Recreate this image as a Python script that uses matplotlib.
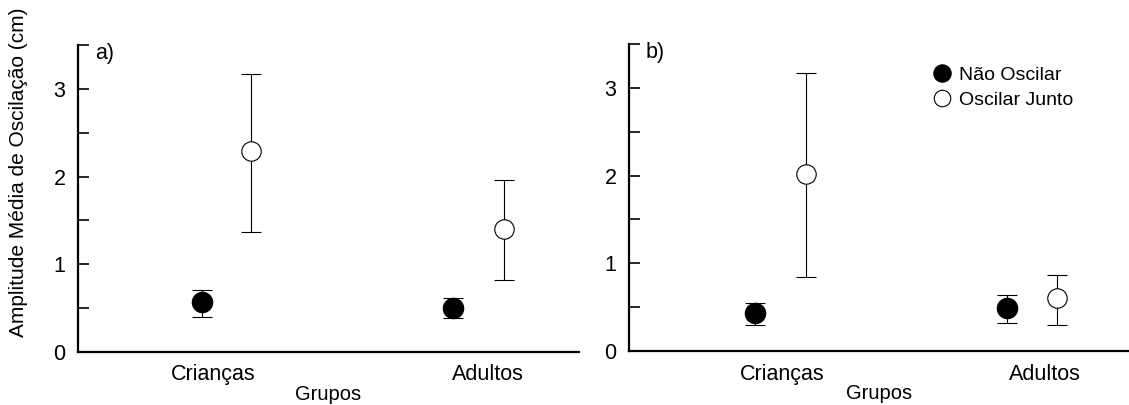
import matplotlib
matplotlib.use("Agg")
import matplotlib.pyplot as plt

plt.rcParams['font.family'] = ['Liberation Sans', 'DejaVu Sans']

# values
groups = ["Crianças", "Adultos"]
series = ["Não Oscilar", "Oscilar Junto"]

# panel a)
a_nao = [0.57, 0.50]
a_nao_lo = [0.40, 0.39]
a_nao_hi = [0.71, 0.62]
a_osc = [2.29, 1.40]
a_osc_lo = [1.37, 0.82]
a_osc_hi = [3.17, 1.96]

# panel b)
b_nao = [0.43, 0.49]
b_nao_lo = [0.30, 0.32]
b_nao_hi = [0.55, 0.64]
b_osc = [2.02, 0.60]
b_osc_lo = [0.84, 0.30]
b_osc_hi = [3.17, 0.87]

# x positions (numeric x axis of the original)
a_x_nao = [1.24, 3.74]
a_x_osc = [1.73, 4.25]
a_x_lab = [1.35, 4.09]
b_x_nao = [1.26, 3.78]
b_x_osc = [1.77, 4.28]
b_x_lab = [1.53, 4.16]

fig = plt.figure(figsize=(11.29, 4.05), dpi=100)
ax_a = fig.add_axes([0.0691, 0.1309, 0.4437, 0.758])
ax_b = fig.add_axes([0.5571, 0.1333, 0.4429, 0.758])


def draw(ax, xn, xo, xl, yn, ynl, ynh, yo, yol, yoh, tag):
    err_n = [[v - l for v, l in zip(yn, ynl)], [h - v for v, h in zip(yn, ynh)]]
    err_o = [[v - l for v, l in zip(yo, yol)], [h - v for v, h in zip(yo, yoh)]]
    ax.errorbar(xn, yn, yerr=err_n, fmt='o', color='black', ms=14.5,
                mfc='black', mec='black', ecolor='black', elinewidth=0.8,
                capsize=7.5, capthick=0.8, label=series[0], clip_on=False)
    ax.errorbar(xo, yo, yerr=err_o, fmt='o', color='black', ms=14,
                mfc='white', mec='black', mew=0.8, ecolor='black', elinewidth=0.8,
                capsize=7.5, capthick=0.8, label=series[1], clip_on=False)
    ax.set_xlim(0, 5)
    ax.set_ylim(0, 3.5)
    ax.set_yticks([0, 1, 2, 3])
    ax.set_yticks([0.5, 1.5, 2.5, 3.5], minor=True)
    ax.set_xticks(xl)
    ax.set_xticklabels(groups)
    ax.tick_params(axis='x', length=0, labelsize=15.5, pad=9)
    ax.tick_params(axis='y', which='both', direction='in', length=8, width=1.2,
                   labelsize=15.5, pad=9)
    for s in ['top', 'right']:
        ax.spines[s].set_visible(False)
    for s in ['left', 'bottom']:
        ax.spines[s].set_linewidth(1.6)
    ax.text(0.17, 3.4, tag, fontsize=15.5, va='center', ha='left')
    ax.set_xlabel("Grupos", fontsize=14.5, va='top')
    ax.xaxis.set_label_coords(0.5, -0.108)


draw(ax_a, a_x_nao, a_x_osc, a_x_lab, a_nao, a_nao_lo, a_nao_hi,
     a_osc, a_osc_lo, a_osc_hi, "a)")
draw(ax_b, b_x_nao, b_x_osc, b_x_lab, b_nao, b_nao_lo, b_nao_hi,
     b_osc, b_osc_lo, b_osc_hi, "b)")

ax_a.set_ylabel("Amplitude Média de Oscilação (cm)", fontsize=15)
ax_a.yaxis.set_label_coords(-0.10, 0.585)

h, l = ax_b.get_legend_handles_labels()
h = [x[0] for x in h]
ax_b.legend(h, l, loc='upper left', bbox_to_anchor=(0.57, 0.985), frameon=False,
            fontsize=14, handletextpad=0.3, labelspacing=0.4, handlelength=1.1,
            markerscale=0.85)

fig.savefig("out.png", dpi=100)
